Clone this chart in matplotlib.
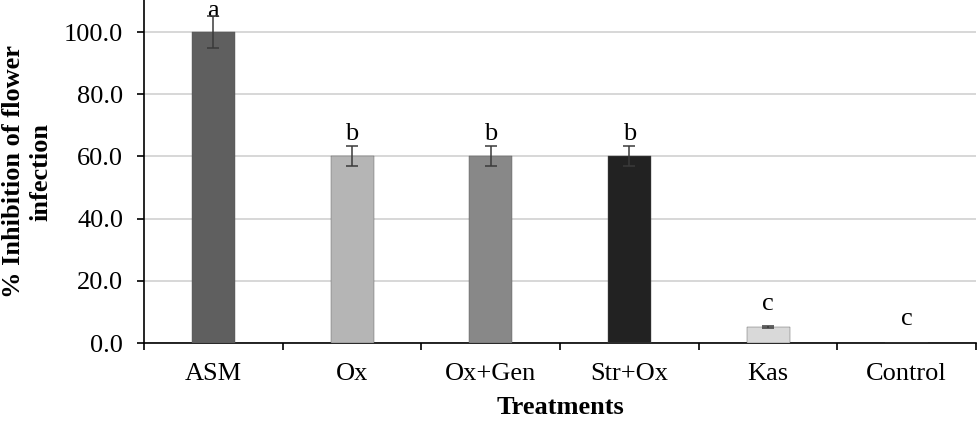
import numpy as np
import matplotlib
matplotlib.use('Agg')
import matplotlib.pyplot as plt

treatments = ['ASM', 'Ox', 'Ox+Gen', 'Str+Ox', 'Kas', 'Control']
inhibition = [100.0, 60.2, 60.2, 60.2, 5.3, 0.0]
errors = [5.1, 3.3, 3.3, 3.3, 0.3, 0.0]
letters = ['a', 'b', 'b', 'b', 'c', 'c']
colors = ['#5f5f5f', '#b5b5b5', '#888888', '#222222', '#d9d9d9', '#d9d9d9']
# gap between top of error bar and letter baseline
letter_gap = [-0.3, 1.9, 1.9, 1.9, 5.0, 5.8]

plt.rcParams['font.family'] = ['Liberation Serif', 'DejaVu Serif']

fig = plt.figure(figsize=(9.8, 4.23), dpi=100)
ax = fig.add_axes([0.147, 0.189, 0.849, 0.811])

x = np.arange(len(treatments))
ax.bar(x, inhibition, width=0.31, color=colors, edgecolor='#555555', linewidth=0.3, zorder=3)
ax.errorbar(x[:5], inhibition[:5], yerr=errors[:5], fmt='none', ecolor='#3a3a3a',
            elinewidth=1.1, capsize=4.3, capthick=1.1, zorder=4)

for i in range(len(treatments)):
    top = inhibition[i] + errors[i]
    ax.text(x[i], top + letter_gap[i], letters[i], ha='center', va='baseline', fontsize=19)

ax.set_xlim(-0.5, len(treatments) - 0.5)
ax.set_ylim(0, 110.3)
ax.set_yticks(np.arange(0, 101, 20))
ax.set_yticklabels(['%.1f' % v for v in np.arange(0, 101, 20)], fontsize=19)
ax.set_xticks(x)
ax.set_xticklabels(treatments, fontsize=19)
ax.set_xticks(np.arange(-0.5, len(treatments)), minor=True)
ax.tick_params(axis='x', which='major', length=0, pad=14.5)
ax.tick_params(axis='x', which='minor', length=5, width=1.2, direction='out')
ax.tick_params(axis='y', length=5, width=1.2, direction='out', pad=10)

ax.yaxis.grid(True, color='#d4d4d4', linewidth=1.3, zorder=0)
ax.spines['top'].set_visible(False)
ax.spines['right'].set_visible(False)
ax.spines['left'].set_linewidth(1.2)
ax.spines['bottom'].set_linewidth(1.2)

ax.set_xlabel('Treatments', fontsize=19, fontweight='bold', labelpad=8)
ax.set_ylabel('% Inhibition of flower\ninfection', fontsize=19, fontweight='bold',
              linespacing=1.25, labelpad=8)

fig.savefig('out.png', dpi=100)
